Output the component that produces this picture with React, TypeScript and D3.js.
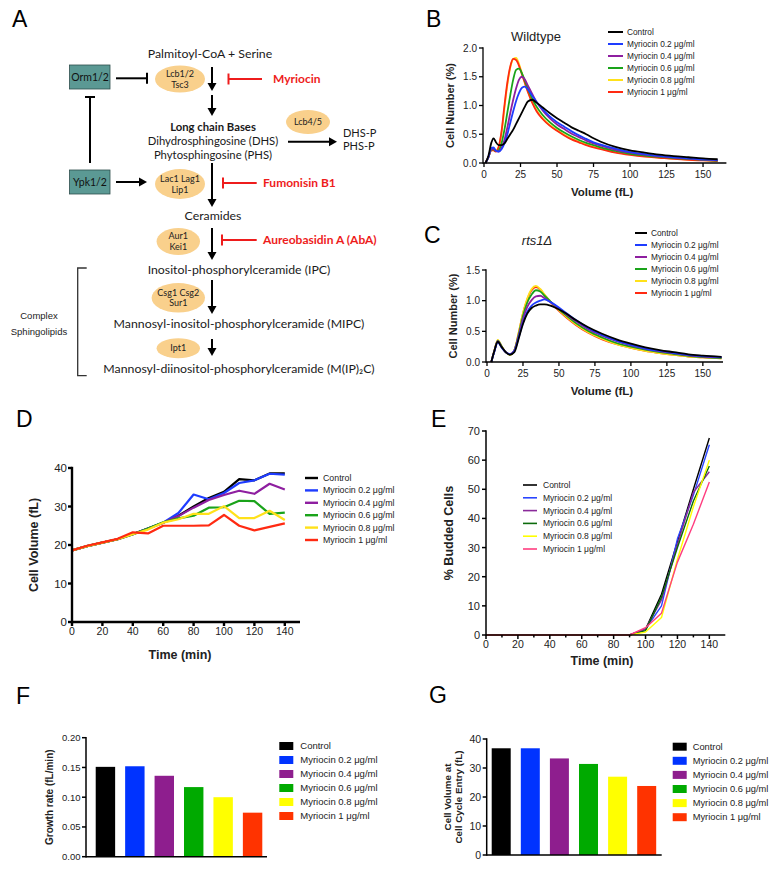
import React from "react";
import * as d3 from "d3";

const AR = "'Liberation Sans', Arial, Helvetica, sans-serif";
const LA = "Lato, 'Open Sans', sans-serif";

const TREATMENTS = [
  "Control",
  "Myriocin 0.2 μg/ml",
  "Myriocin 0.4 μg/ml",
  "Myriocin 0.6 μg/ml",
  "Myriocin 0.8 μg/ml",
  "Myriocin 1 μg/ml",
];
const COLORS_LINE = ["#000000", "#1e3cff", "#8e1fa0", "#1aa31a", "#ffe11a", "#ff2a12"];
const COLORS_E = ["#000000", "#2a45ff", "#8a2a9a", "#0b6b0b", "#ffff00", "#ff3d7f"];
const COLORS_BAR = ["#000000", "#0033ff", "#8e1e8e", "#00aa00", "#ffff00", "#ff3300"];

// Panel B: wildtype volume distributions
const B_VOL = [1, 3, 5, 6.5, 8, 10, 12, 14, 16, 18, 20, 22, 24, 26, 28, 30, 33, 36, 40, 45, 50, 55, 60, 65, 70, 75, 80, 90, 100, 110, 120, 130, 140, 150, 160];
const B_CONTROL = [0, 0.12, 0.35, 0.43, 0.37, 0.31, 0.31, 0.34, 0.42, 0.5, 0.58, 0.68, 0.78, 0.88, 0.98, 1.07, 1.1, 1.05, 0.97, 0.87, 0.78, 0.7, 0.62, 0.56, 0.5, 0.43, 0.37, 0.28, 0.22, 0.18, 0.145, 0.12, 0.1, 0.08, 0.065];
const B_M02 = [0, 0.1, 0.26, 0.27, 0.22, 0.2, 0.24, 0.34, 0.5, 0.7, 0.9, 1.08, 1.22, 1.31, 1.33, 1.28, 1.17, 1.06, 0.94, 0.81, 0.71, 0.63, 0.55, 0.48, 0.42, 0.36, 0.32, 0.25, 0.19, 0.155, 0.125, 0.1, 0.08, 0.065, 0.05];
const B_M04 = [0, 0.1, 0.24, 0.25, 0.21, 0.2, 0.26, 0.4, 0.62, 0.87, 1.1, 1.3, 1.45, 1.5, 1.45, 1.35, 1.2, 1.06, 0.92, 0.78, 0.67, 0.59, 0.51, 0.45, 0.39, 0.34, 0.3, 0.23, 0.18, 0.145, 0.115, 0.095, 0.075, 0.06, 0.045];
const B_M06 = [0, 0.1, 0.23, 0.24, 0.21, 0.22, 0.34, 0.58, 0.88, 1.18, 1.45, 1.62, 1.64, 1.56, 1.43, 1.3, 1.12, 0.98, 0.84, 0.71, 0.61, 0.53, 0.46, 0.4, 0.35, 0.31, 0.27, 0.21, 0.16, 0.13, 0.105, 0.085, 0.07, 0.055, 0.04];
const B_M08 = [0, 0.1, 0.23, 0.23, 0.21, 0.27, 0.52, 0.95, 1.36, 1.66, 1.81, 1.83, 1.72, 1.56, 1.4, 1.25, 1.06, 0.92, 0.78, 0.66, 0.57, 0.49, 0.42, 0.37, 0.32, 0.28, 0.25, 0.19, 0.15, 0.12, 0.095, 0.075, 0.06, 0.05, 0.035];
const B_M1 = [0, 0.1, 0.22, 0.22, 0.2, 0.28, 0.55, 1.0, 1.4, 1.68, 1.81, 1.79, 1.69, 1.54, 1.39, 1.24, 1.05, 0.9, 0.77, 0.65, 0.56, 0.48, 0.41, 0.36, 0.31, 0.27, 0.24, 0.18, 0.14, 0.11, 0.09, 0.07, 0.055, 0.045, 0.035];
const B_X_TICKS = [0, 25, 50, 75, 100, 125, 150];
const B_Y_TICKS = [0, 0.5, 1.0, 1.5, 2.0];

// Panel C: rts1Δ volume distributions
const C_VOL = [3, 5, 7.5, 10, 13, 16, 19, 22, 25, 28, 31, 34, 37, 40, 44, 48, 55, 62, 70, 80, 90, 100, 110, 120, 130, 140, 150, 163];
const C_CONTROL = [0, 0.17, 0.33, 0.25, 0.16, 0.12, 0.16, 0.38, 0.62, 0.79, 0.88, 0.92, 0.94, 0.94, 0.92, 0.88, 0.79, 0.68, 0.57, 0.46, 0.37, 0.3, 0.24, 0.195, 0.16, 0.125, 0.105, 0.085];
const C_M02 = [0, 0.16, 0.32, 0.24, 0.16, 0.13, 0.18, 0.4, 0.64, 0.82, 0.92, 0.97, 1.0, 1.02, 0.98, 0.92, 0.8, 0.68, 0.56, 0.44, 0.35, 0.28, 0.22, 0.18, 0.145, 0.115, 0.095, 0.08];
const C_M04 = [0, 0.17, 0.34, 0.25, 0.16, 0.13, 0.19, 0.43, 0.7, 0.9, 1.01, 1.07, 1.08, 1.04, 0.98, 0.91, 0.78, 0.66, 0.54, 0.43, 0.34, 0.27, 0.215, 0.175, 0.14, 0.11, 0.09, 0.075];
const C_M06 = [0, 0.17, 0.35, 0.26, 0.16, 0.12, 0.19, 0.45, 0.75, 0.97, 1.1, 1.17, 1.15, 1.08, 0.99, 0.9, 0.76, 0.63, 0.51, 0.4, 0.31, 0.25, 0.2, 0.16, 0.13, 0.1, 0.08, 0.065];
const C_M08 = [0, 0.18, 0.36, 0.26, 0.16, 0.12, 0.19, 0.48, 0.8, 1.04, 1.19, 1.24, 1.19, 1.1, 0.99, 0.89, 0.74, 0.61, 0.49, 0.38, 0.29, 0.23, 0.18, 0.145, 0.115, 0.09, 0.075, 0.06];
const C_M1 = [0, 0.17, 0.35, 0.26, 0.16, 0.12, 0.19, 0.47, 0.79, 1.02, 1.17, 1.22, 1.18, 1.09, 0.98, 0.88, 0.73, 0.6, 0.48, 0.37, 0.29, 0.23, 0.18, 0.145, 0.115, 0.09, 0.075, 0.06];
const C_Y_TICKS = [0, 0.5, 1.0, 1.5];

// Panel D: cell volume over time
const TIME = [0, 10, 20, 30, 40, 50, 60, 70, 80, 90, 100, 110, 120, 130, 140];
const D_CONTROL = [18.6, 19.7, 20.6, 21.5, 22.8, 24.3, 25.8, 27.6, 30.0, 32.2, 33.8, 37.1, 36.8, 38.6, 38.6];
const D_M02 = [18.6, 19.7, 20.6, 21.5, 22.8, 24.3, 25.8, 28.3, 33.1, 31.9, 33.5, 36.1, 36.8, 38.5, 38.3];
const D_M04 = [18.6, 19.7, 20.6, 21.5, 22.8, 24.3, 25.8, 27.5, 29.7, 31.7, 33.0, 34.1, 33.3, 35.9, 34.4];
const D_M06 = [18.6, 19.7, 20.6, 21.5, 22.8, 24.3, 25.9, 26.9, 27.6, 29.7, 29.8, 31.5, 31.4, 28.1, 28.4];
const D_M08 = [18.6, 19.7, 20.6, 21.5, 22.8, 24.0, 25.8, 26.7, 28.1, 28.1, 30.1, 27.0, 27.0, 28.9, 26.5];
const D_M1 = [18.6, 19.8, 20.7, 21.6, 23.3, 23.0, 25.0, 25.0, 25.0, 25.1, 27.8, 25.0, 23.8, 24.7, 25.6];
const D_Y_TICKS = [0, 10, 20, 30, 40];
const TIME_TICKS = [0, 20, 40, 60, 80, 100, 120, 140];

// Panel E: % budded cells
const E_CONTROL = [0, 0, 0, 0, 0, 0, 0, 0, 0, 0, 2.0, 14, 32, 50, 67.6];
const E_M02 = [0, 0, 0, 0, 0, 0, 0, 0, 0, 0, 2.0, 10, 33, 48, 65.3];
const E_M04 = [0, 0, 0, 0, 0, 0, 0, 0, 0, 0, 2.0, 12, 31, 49, 56];
const E_M06 = [0, 0, 0, 0, 0, 0, 0, 0, 0, 0, 1.5, 13, 30, 46, 58];
const E_M08 = [0, 0, 0, 0, 0, 0, 0, 0, 0, 0, 1.0, 6, 26, 44, 60];
const E_M1 = [0, 0, 0, 0, 0, 0, 0, 0, 0, 0, 2.5, 7.5, 25, 38, 52.5];
const E_Y_TICKS = [0, 10, 20, 30, 40, 50, 60, 70];
const E_MINOR = [10, 30, 50, 70, 90, 110, 130];

// Panels F, G
const F_VALUES = [0.151, 0.152, 0.136, 0.117, 0.1, 0.074];
const F_Y_TICKS = [0, 0.05, 0.1, 0.15, 0.2];
const G_VALUES = [36.8, 36.8, 33.3, 31.4, 27.0, 23.8];
const G_Y_TICKS = [0, 10, 20, 30, 40];

function YAxis({ scale, ticks, x, fmt, fs, tl = 4, sw = 1.3, gap = 2 }: any) {
  const r = scale.range();
  return (
    <g>
      <line x1={x} x2={x} y1={r[0] + sw / 2} y2={r[1] - sw / 2} stroke="#000" strokeWidth={sw} />
      {ticks.map((t: number) => (
        <g key={t}>
          <line x1={x - tl} x2={x} y1={scale(t)} y2={scale(t)} stroke="#000" strokeWidth={sw} />
          <text x={x - tl - gap} y={scale(t)} dy="0.36em" textAnchor="end" fontSize={fs} fontFamily={AR} fill="#222">
            {fmt(t)}
          </text>
        </g>
      ))}
    </g>
  );
}

function XAxis({ scale, ticks, y, fmt, fs, tl = 4, sw = 1.3, gap = 3, minor = [], start }: any) {
  const r = scale.range();
  return (
    <g>
      <line x1={start !== undefined ? start : r[0]} x2={r[1]} y1={y} y2={y} stroke="#000" strokeWidth={sw} />
      {ticks.map((t: number) => (
        <g key={t}>
          <line x1={scale(t)} x2={scale(t)} y1={y} y2={y + tl} stroke="#000" strokeWidth={sw} />
          <text x={scale(t)} y={y + tl + gap} dy="0.75em" textAnchor="middle" fontSize={fs} fontFamily={AR} fill="#222">
            {fmt(t)}
          </text>
        </g>
      ))}
      {minor.map((t: number) => (
        <line key={"m" + t} x1={scale(t)} x2={scale(t)} y1={y} y2={y + tl * 0.6} stroke="#000" strokeWidth={sw} />
      ))}
    </g>
  );
}

function LineLegend({ x, y, dy, len, gap, fs, sw, colors }: any) {
  return (
    <g>
      {TREATMENTS.map((t, i) => (
        <g key={t}>
          <line x1={x} x2={x + len} y1={y + i * dy} y2={y + i * dy} stroke={colors[i]} strokeWidth={sw} />
          <text x={x + len + gap} y={y + i * dy} dy="0.35em" fontSize={fs} fontFamily={AR} fill="#222">
            {t}
          </text>
        </g>
      ))}
    </g>
  );
}

function BoxLegend({ x, y, dy, w, h, gap, fs, colors }: any) {
  return (
    <g>
      {TREATMENTS.map((t, i) => (
        <g key={t}>
          <rect x={x} y={y + i * dy - h / 2} width={w} height={h} fill={colors[i]} />
          <text x={x + w + gap} y={y + i * dy} dy="0.35em" fontSize={fs} fontFamily={AR} fill="#222">
            {t}
          </text>
        </g>
      ))}
    </g>
  );
}

function Letter({ x, y, t }: any) {
  return (
    <text x={x} y={y} fontSize={23} fontFamily={AR} fill="#000">
      {t}
    </text>
  );
}

function Arrow({ x1, y1, x2, y2, color = "#000", sw = 2, head = 8, hw = 4.5 }: any) {
  const dx = x2 - x1, dy = y2 - y1;
  const L = Math.hypot(dx, dy);
  const ux = dx / L, uy = dy / L;
  const bx = x2 - ux * head, by = y2 - uy * head;
  const px = -uy * hw, py = ux * hw;
  return (
    <g>
      <line x1={x1} y1={y1} x2={bx + ux} y2={by + uy} stroke={color} strokeWidth={sw} />
      <polygon points={`${x2},${y2} ${bx + px},${by + py} ${bx - px},${by - py}`} fill={color} />
    </g>
  );
}

function Inhib({ x1, y1, x2, y2, color = "#000", sw = 2, bar = 6 }: any) {
  const dx = x2 - x1, dy = y2 - y1;
  const L = Math.hypot(dx, dy);
  const ux = dx / L, uy = dy / L;
  const px = -uy * bar, py = ux * bar;
  return (
    <g>
      <line x1={x1} y1={y1} x2={x2} y2={y2} stroke={color} strokeWidth={sw} />
      <line x1={x2 + px} y1={y2 + py} x2={x2 - px} y2={y2 - py} stroke={color} strokeWidth={sw} />
    </g>
  );
}

function Enzyme({ cx, cy, rx, ry, lines }: any) {
  const n = lines.length;
  return (
    <g>
      <ellipse cx={cx} cy={cy} rx={rx} ry={ry} fill="#f9d08c" />
      {lines.map((l: string, i: number) => (
        <text key={i} x={cx} y={cy + (i - (n - 1) / 2) * 10.8} dy="0.35em" textAnchor="middle" fontSize={9} fontFamily={LA} fill="#222">
          {l}
        </text>
      ))}
    </g>
  );
}

function PanelA() {
  const T = (p: any) => <text fontFamily={LA} fontSize={12.3} fill="#1a1a1a" textAnchor="middle" {...p} />;
  const red = "#ee1c1c";
  return (
    <g>
      <Letter x={12} y={27} t="A" />
      <T x={210} y={58}>Palmitoyl-CoA + Serine</T>
      <rect x={69.5} y={65} width={40.5} height={24} fill="#5b9994" stroke="#2e4e4c" strokeWidth={0.8} />
      <text x={90} y={77} dy="0.35em" textAnchor="middle" fontSize={10.5} fontFamily={LA} fill="#111">Orm1/2</text>
      <Inhib x1={116} y1={78.3} x2={147} y2={78.3} bar={5.5} />
      <Enzyme cx={180} cy={79} rx={25} ry={13.5} lines={["Lcb1/2", "Tsc3"]} />
      <Arrow x1={212} y1={67} x2={212} y2={91} />
      <Inhib x1={262} y1={79} x2={228.5} y2={79} color={red} bar={5.5} />
      <text x={273} y={79} dy="0.35em" fontSize={12} fontWeight="bold" fontFamily={LA} fill={red}>Myriocin</text>
      <Arrow x1={212} y1={95} x2={212} y2={116} />
      <T x={213} y={127.5} dy="0.35em" fontSize={11.3} fontWeight="bold">Long chain Bases</T>
      <T x={213} y={141.1} dy="0.35em" fontSize={11.3}>Dihydrosphingosine (DHS)</T>
      <T x={213} y={154.7} dy="0.35em" fontSize={11.3}>Phytosphingosine (PHS)</T>
      <Enzyme cx={308} cy={122} rx={22} ry={12} lines={["Lcb4/5"]} />
      <Arrow x1={288} y1={141.7} x2={337} y2={141.7} />
      <text x={343} y={133} dy="0.35em" fontFamily={LA} fontSize={11} fill="#1a1a1a">DHS-P</text>
      <text x={343} y={146.3} dy="0.35em" fontFamily={LA} fontSize={11} fill="#1a1a1a">PHS-P</text>
      <Inhib x1={90} y1={163} x2={90} y2={97} bar={5} />
      <rect x={69.5} y={170} width={40.5} height={24} fill="#5b9994" stroke="#2e4e4c" strokeWidth={0.8} />
      <text x={90} y={182} dy="0.35em" textAnchor="middle" fontSize={10.5} fontFamily={LA} fill="#111">Ypk1/2</text>
      <Arrow x1={116} y1={182} x2={147} y2={182} />
      <Enzyme cx={180} cy={184} rx={25} ry={15} lines={["Lac1 Lag1", "Lip1"]} />
      <Arrow x1={212} y1={163} x2={212} y2={207} />
      <Inhib x1={256.7} y1={183} x2={223} y2={183} color={red} bar={5.5} />
      <text x={263} y={183} dy="0.35em" fontSize={12} fontWeight="bold" fontFamily={LA} fill={red}>Fumonisin B1</text>
      <T x={213} y={220}>Ceramides</T>
      <Enzyme cx={178.3} cy={241.5} rx={21.7} ry={13.5} lines={["Aur1", "Kei1"]} />
      <Arrow x1={212} y1={228} x2={212} y2={260} />
      <Inhib x1={256.7} y1={240} x2={222} y2={240} color={red} bar={5.5} />
      <text x={263} y={240} dy="0.35em" fontSize={12} fontWeight="bold" fontFamily={LA} fill={red}>Aureobasidin A (AbA)</text>
      <T x={239} y={274}>Inositol-phosphorylceramide (IPC)</T>
      <Enzyme cx={178.3} cy={297.8} rx={26.7} ry={14.8} lines={["Csg1 Csg2", "Sur1"]} />
      <Arrow x1={212} y1={280} x2={212} y2={314} />
      <T x={239} y={328}>Mannosyl-inositol-phosphorylceramide (MIPC)</T>
      <Enzyme cx={178.3} cy={348.3} rx={21.7} ry={10} lines={["Ipt1"]} />
      <Arrow x1={212} y1={339} x2={212} y2={356} />
      <T x={239} y={373}>Mannosyl-diinositol-phosphorylceramide (M(IP)₂C)</T>
      <path d="M86.7,268 H77.7 V375.7 H86.7" fill="none" stroke="#333" strokeWidth={1.3} />
      <text x={39} y={316} dy="0.35em" textAnchor="middle" fontSize={9.5} fontFamily={AR} fill="#222">Complex</text>
      <text x={39} y={332} dy="0.35em" textAnchor="middle" fontSize={9.5} fontFamily={AR} fill="#222">Sphingolipids</text>
    </g>
  );
}

function DistPanel({ vols, series, order, xr, yr, xMax, yMax, yTicks, legend, title, titlePos, italic, letter, letterPos }: any) {
  const x = d3.scaleLinear().domain([0, xMax]).range(xr);
  const y = d3.scaleLinear().domain([0, yMax]).range(yr);
  const line = d3
    .line<number>()
    .x((_, i) => x(vols[i]))
    .y((d) => y(d))
    .curve(d3.curveMonotoneX);
  return (
    <g>
      <Letter x={letterPos[0]} y={letterPos[1]} t={letter} />
      <text x={titlePos[0]} y={titlePos[1]} textAnchor="middle" fontSize={13} fontFamily={AR} fontStyle={italic ? "italic" : "normal"} fill="#222">
        {title}
      </text>
      {order.map((k: number) => (
        <path key={k} d={line(series[k]) || ""} fill="none" stroke={COLORS_LINE[k]} strokeWidth={1.8} strokeLinejoin="round" />
      ))}
      <YAxis scale={y} ticks={yTicks} x={xr[0] - 1} fmt={d3.format(".1f")} fs={10} sw={1.3} />
      <XAxis scale={x} ticks={B_X_TICKS} y={yr[0]} fmt={d3.format("d")} fs={10} sw={1.3} start={xr[0] - 1} />
      <text transform={`translate(${xr[0] - 30},${(yr[0] + yr[1]) / 2}) rotate(-90)`} textAnchor="middle" fontSize={11} fontWeight="bold" fontFamily={AR} fill="#222">
        Cell Number (%)
      </text>
      <text x={(xr[0] + xr[1]) / 2 - 3} y={yr[0] + 33} textAnchor="middle" fontSize={11.5} fontWeight="bold" fontFamily={AR} fill="#222">
        Volume (fL)
      </text>
      <LineLegend {...legend} colors={COLORS_LINE} />
    </g>
  );
}

function PanelD() {
  const x = d3.scaleLinear().domain([0, 150]).range([72, 300]);
  const y = d3.scaleLinear().domain([0, 40]).range([622, 468]);
  const series = [D_CONTROL, D_M02, D_M04, D_M06, D_M08, D_M1];
  const line = d3
    .line<number>()
    .x((_, i) => x(TIME[i]))
    .y((d) => y(d));
  return (
    <g>
      <Letter x={16} y={427} t="D" />
      {series.map((s, k) => (
        <path key={k} d={line(s) || ""} fill="none" stroke={COLORS_LINE[k]} strokeWidth={2.2} strokeLinejoin="round" />
      ))}
      <YAxis scale={y} ticks={D_Y_TICKS} x={72} fmt={d3.format("d")} fs={11.5} sw={2.4} tl={4} gap={1} />
      <XAxis scale={x} ticks={TIME_TICKS} y={622} fmt={d3.format("d")} fs={10.5} sw={2.4} tl={4} gap={1} />
      <text transform={`translate(38,545) rotate(-90)`} textAnchor="middle" fontSize={12.5} fontWeight="bold" fontFamily={AR} fill="#222">
        Cell Volume (fL)
      </text>
      <text x={180} y={659} textAnchor="middle" fontSize={12.5} fontWeight="bold" fontFamily={AR} fill="#222">
        Time (min)
      </text>
      <LineLegend x={305} y={478} dy={12.4} len={13} gap={5} fs={8.8} sw={2.4} colors={COLORS_LINE} />
    </g>
  );
}

function PanelE() {
  const x = d3.scaleLinear().domain([0, 150]).range([486, 725.3]);
  const y = d3.scaleLinear().domain([0, 70]).range([635, 431]);
  const series = [E_CONTROL, E_M02, E_M04, E_M06, E_M08, E_M1];
  const line = d3
    .line<number>()
    .x((_, i) => x(TIME[i]))
    .y((d) => y(d));
  return (
    <g>
      <Letter x={431} y={427} t="E" />
      {series.map((s, k) => (
        <path key={k} d={line(s) || ""} fill="none" stroke={COLORS_E[k]} strokeWidth={1.4} strokeLinejoin="round" />
      ))}
      <YAxis scale={y} ticks={E_Y_TICKS} x={486} fmt={d3.format("d")} fs={11} sw={1.5} tl={4} gap={2} />
      <XAxis scale={x} ticks={TIME_TICKS} minor={E_MINOR} y={635} fmt={d3.format("d")} fs={10.5} sw={1.5} tl={4} gap={1} />
      <text transform={`translate(453,533) rotate(-90)`} textAnchor="middle" fontSize={12.5} fontWeight="bold" fontFamily={AR} fill="#222">
        % Budded Cells
      </text>
      <text x={602} y={665} textAnchor="middle" fontSize={12.5} fontWeight="bold" fontFamily={AR} fill="#222">
        Time (min)
      </text>
      <LineLegend x={523} y={485} dy={12.8} len={14} gap={6} fs={8.5} sw={1.6} colors={COLORS_E} />
    </g>
  );
}

function BarPanel({ values, yMax, yTicks, fmt, yr, xr, axisEnd, pad, po, legend, letter, letterPos, labels, labelX, labelFs, tickFs }: any) {
  const x = d3.scaleBand().domain(TREATMENTS).range(xr).paddingInner(pad).paddingOuter(po);
  const y = d3.scaleLinear().domain([0, yMax]).range(yr);
  return (
    <g>
      <Letter x={letterPos[0]} y={letterPos[1]} t={letter} />
      {TREATMENTS.map((t, i) => (
        <rect key={t} x={x(t)} y={y(values[i])} width={x.bandwidth()} height={y(0) - y(values[i])} fill={COLORS_BAR[i]} />
      ))}
      <YAxis scale={y} ticks={yTicks} x={xr[0]} fmt={fmt} fs={tickFs} sw={1.5} tl={4} gap={1.5} />
      <line x1={xr[0]} x2={axisEnd} y1={yr[0]} y2={yr[0]} stroke="#000" strokeWidth={1.5} />
      {labels.map((l: string, i: number) => (
        <text
          key={i}
          transform={`translate(${labelX + i * 11},${(yr[0] + yr[1]) / 2}) rotate(-90)`}
          textAnchor="middle"
          fontSize={labelFs}
          fontWeight="bold"
          fontFamily={AR}
          fill="#222"
        >
          {l}
        </text>
      ))}
      <BoxLegend {...legend} colors={COLORS_BAR} />
    </g>
  );
}

export default function App() {
  return (
    <svg width={779} height={869} style={{ position: "absolute", left: 0, top: 0, background: "#fff" }}>
      <rect width={779} height={869} fill="#fff" />
      <PanelA />
      <DistPanel
        vols={B_VOL}
        series={[B_CONTROL, B_M02, B_M04, B_M06, B_M08, B_M1]}
        order={[4, 5, 3, 2, 1, 0]}
        xr={[484, 726.4]}
        yr={[163, 48]}
        xMax={166}
        yMax={2.0}
        yTicks={B_Y_TICKS}
        legend={{ x: 608, y: 32, dy: 12, len: 15, gap: 4, fs: 8.3, sw: 2 }}
        title="Wildtype"
        titlePos={[536, 40.5]}
        letter="B"
        letterPos={[426, 27]}
      />
      <DistPanel
        vols={C_VOL}
        series={[C_CONTROL, C_M02, C_M04, C_M06, C_M08, C_M1]}
        order={[5, 4, 3, 2, 1, 0]}
        xr={[487, 723]}
        yr={[362, 270]}
        xMax={164}
        yMax={1.5}
        yTicks={C_Y_TICKS}
        legend={{ x: 635, y: 233, dy: 12, len: 12, gap: 4, fs: 8.3, sw: 2 }}
        title="rts1Δ"
        titlePos={[537, 245]}
        italic
        letter="C"
        letterPos={[424, 243]}
      />
      <PanelD />
      <PanelE />
      <BarPanel
        values={F_VALUES}
        yMax={0.2}
        yTicks={F_Y_TICKS}
        fmt={d3.format(".2f")}
        yr={[856.7, 737.7]}
        xr={[86, 272]}
        axisEnd={267}
        pad={0.34}
        po={0.33}
        legend={{ x: 279.3, y: 746, dy: 14, w: 14, h: 8, gap: 7, fs: 9.5 }}
        letter="F"
        letterPos={[16, 704]}
        labels={["Growth rate (fL/min)"]}
        labelX={53}
        labelFs={10}
        tickFs={9.5}
      />
      <BarPanel
        values={G_VALUES}
        yMax={40}
        yTicks={G_Y_TICKS}
        fmt={d3.format("d")}
        yr={[855, 739]}
        xr={[486.7, 661.2]}
        axisEnd={661.7}
        pad={0.347}
        po={0.172}
        legend={{ x: 672.7, y: 746.7, dy: 14.1, w: 14, h: 8, gap: 6, fs: 9.3 }}
        letter="G"
        letterPos={[429, 703]}
        labels={["Cell Volume at", "Cell Cycle Entry (fL)"]}
        labelX={451}
        labelFs={9.8}
        tickFs={10.5}
      />
    </svg>
  );
}
